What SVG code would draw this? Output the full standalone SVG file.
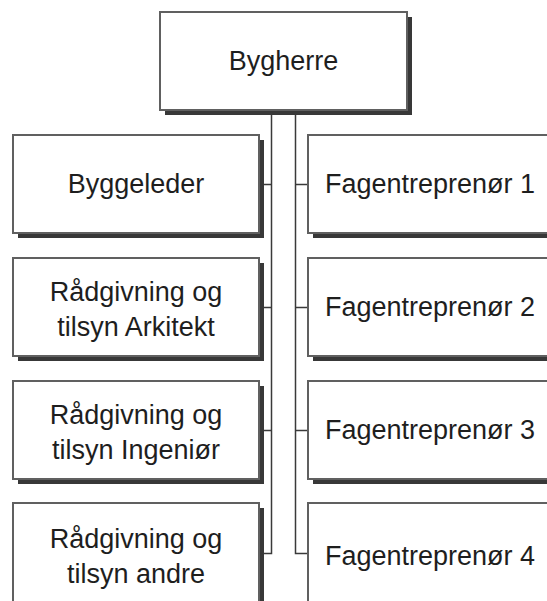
<svg xmlns="http://www.w3.org/2000/svg" width="547" height="601" viewBox="0 0 547 601">
<style>
.sh{fill:#383838;stroke:none}
.bx{fill:#fff;stroke:#606060;stroke-width:2}
.t{font-family:"Liberation Sans",Arial,sans-serif;font-size:27px;fill:#1e1e1e;text-anchor:middle}
.c{fill:none;stroke:#3a3a3a;stroke-width:1.5}
</style>
<rect width="547" height="601" fill="#fff"/>
<g id="connectors">
<path class="c" d="M271.5 110 V553.5 H260"/>
<path class="c" d="M295.5 110 V553.5 H308"/>
<path class="c" d="M260 184.5 H271.5 M260 307.5 H271.5 M260 430.5 H271.5"/>
<path class="c" d="M295.5 184.5 H308 M295.5 307.5 H308 M295.5 430.5 H308"/>
</g>
<g id="bygherre">
<rect class="sh" x="165" y="17" width="247" height="98"/>
<rect class="bx" x="160" y="12" width="247" height="98"/>
<text class="t" x="283.5" y="70">Bygherre</text>
</g>
<g id="byggeleder">
<rect class="sh" x="18" y="140" width="246" height="98"/>
<rect class="bx" x="13" y="135" width="246" height="98"/>
<text class="t" x="136" y="193">Byggeleder</text>
</g>
<g id="arkitekt">
<rect class="sh" x="18" y="263" width="246" height="98"/>
<rect class="bx" x="13" y="258" width="246" height="98"/>
<text class="t" x="136" y="301">Rådgivning og</text>
<text class="t" x="136" y="336">tilsyn Arkitekt</text>
</g>
<g id="ingenior">
<rect class="sh" x="18" y="386" width="246" height="98"/>
<rect class="bx" x="13" y="381" width="246" height="98"/>
<text class="t" x="136" y="424">Rådgivning og</text>
<text class="t" x="136" y="459">tilsyn Ingeniør</text>
</g>
<g id="andre">
<rect class="sh" x="18" y="508" width="246" height="110"/>
<rect class="bx" x="13" y="503" width="246" height="110"/>
<text class="t" x="136" y="548">Rådgivning og</text>
<text class="t" x="136" y="583">tilsyn andre</text>
</g>
<g id="fag1">
<rect class="sh" x="313" y="140" width="246" height="98"/>
<rect class="bx" x="308" y="135" width="246" height="98"/>
<text class="t" x="430" y="193">Fagentreprenør 1</text>
</g>
<g id="fag2">
<rect class="sh" x="313" y="263" width="246" height="98"/>
<rect class="bx" x="308" y="258" width="246" height="98"/>
<text class="t" x="430" y="316">Fagentreprenør 2</text>
</g>
<g id="fag3">
<rect class="sh" x="313" y="386" width="246" height="98"/>
<rect class="bx" x="308" y="381" width="246" height="98"/>
<text class="t" x="430" y="439">Fagentreprenør 3</text>
</g>
<g id="fag4">
<rect class="sh" x="313" y="508" width="246" height="110"/>
<rect class="bx" x="308" y="503" width="246" height="110"/>
<text class="t" x="430" y="565">Fagentreprenør 4</text>
</g>
</svg>
